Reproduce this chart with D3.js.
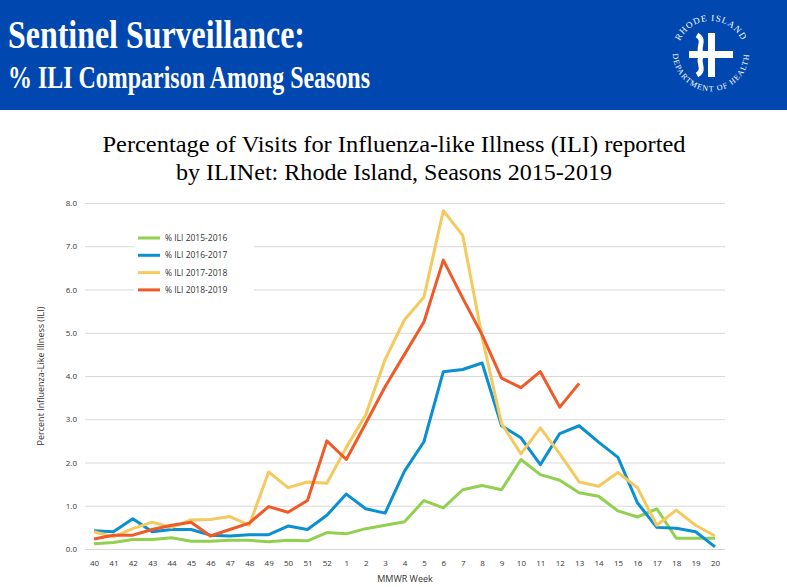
<!DOCTYPE html>
<html><head><meta charset="utf-8">
<script src="https://cdn.jsdelivr.net/npm/d3@7"></script>
<style>body{margin:0;background:#fff}</style>
</head><body>
<svg id="c" width="787" height="587"></svg>
<script>
var weeks = ["40","41","42","43","44","45","46","47","48","49","50","51","52","1","2","3","4","5","6","7","8","9","10","11","12","13","14","15","16","17","18","19","20"];
var ili1516 = [0.12,0.15,0.22,0.22,0.26,0.18,0.18,0.2,0.2,0.17,0.2,0.19,0.38,0.35,0.47,0.55,0.63,1.12,0.95,1.37,1.47,1.37,2.07,1.72,1.59,1.3,1.22,0.88,0.74,0.93,0.25,0.25,0.25];
var ili1617 = [0.42,0.4,0.7,0.4,0.45,0.45,0.32,0.3,0.33,0.33,0.53,0.45,0.78,1.27,0.93,0.83,1.8,2.48,4.1,4.15,4.3,2.85,2.57,1.95,2.67,2.85,2.47,2.12,1.07,0.5,0.48,0.4,0.05];
var ili1718 = [0.4,0.28,0.47,0.62,0.5,0.67,0.68,0.75,0.55,1.78,1.42,1.55,1.52,2.35,3.1,4.38,5.3,5.82,7.82,7.25,4.9,2.9,2.2,2.8,2.2,1.55,1.45,1.77,1.42,0.55,0.9,0.55,0.3];
var ili1819 = [0.23,0.32,0.32,0.45,0.55,0.62,0.3,0.45,0.6,0.98,0.85,1.12,2.5,2.07,2.9,3.75,4.5,5.25,6.68,5.8,4.95,3.95,3.73,4.1,3.28,3.83];
var yTicks = [0,1,2,3,4,5,6,7,8];

var series = [
  {name: "% ILI 2015-2016", color: "#92d050", values: ili1516},
  {name: "% ILI 2016-2017", color: "#0a8fd0", values: ili1617},
  {name: "% ILI 2017-2018", color: "#f4c95d", values: ili1718},
  {name: "% ILI 2018-2019", color: "#f05a28", values: ili1819}
];

var svg = d3.select("#c");

// banner
svg.append("rect").attr("width", 787).attr("height", 110).attr("fill", "#0047b0");
svg.append("text").attr("x", 8).attr("y", 48).attr("fill", "#fff")
  .style("font-family", "Liberation Serif").style("font-weight", "bold").style("font-size", "40px")
  .attr("textLength", 297).attr("lengthAdjust", "spacingAndGlyphs")
  .text("Sentinel Surveillance:");
svg.append("text").attr("x", 8).attr("y", 88).attr("fill", "#fff")
  .style("font-family", "Liberation Serif").style("font-weight", "bold").style("font-size", "31px")
  .attr("textLength", 362).attr("lengthAdjust", "spacingAndGlyphs")
  .text("% ILI Comparison Among Seasons");

// logo
var logo = svg.append("g").attr("transform", "translate(711,55)");
logo.append("path").attr("id", "arcTop").attr("d", "M-33,8 A34,34 0 1,1 33,8").attr("fill", "none");
logo.append("text").attr("fill", "#fff").style("font-family", "Liberation Serif").style("font-size", "9px")
  .style("letter-spacing", "1px")
  .append("textPath").attr("href", "#arcTop").attr("startOffset", "50%").attr("text-anchor", "middle")
  .text("RHODE ISLAND");
logo.append("path").attr("id", "arcSide").attr("d", "M-36,-14 A38,38 0 1,0 36,-14").attr("fill", "none");
logo.append("text").attr("fill", "#fff").style("font-family", "Liberation Serif").style("font-size", "8px")
  .style("letter-spacing", "1px")
  .append("textPath").attr("href", "#arcSide").attr("startOffset", "50%").attr("text-anchor", "middle")
  .text("DEPARTMENT OF HEALTH");
logo.append("rect").attr("x", -22).attr("y", -4).attr("width", 44).attr("height", 7).attr("fill", "#fff");
logo.append("rect").attr("x", -3).attr("y", -22).attr("width", 7).attr("height", 44).attr("fill", "#fff");
logo.append("path").attr("d", "M-14,-20 C-4,-14 -16,-6 -8,0 C-16,6 -4,14 -14,20").attr("stroke", "#fff").attr("stroke-width", 5).attr("fill", "none");

// chart title
svg.append("text").attr("x", 394).attr("y", 152).attr("text-anchor", "middle")
  .style("font-family", "Liberation Serif").style("font-size", "23px")
  .attr("textLength", 583).attr("lengthAdjust", "spacingAndGlyphs")
  .text("Percentage of Visits for Influenza-like Illness (ILI) reported");
svg.append("text").attr("x", 394).attr("y", 180).attr("text-anchor", "middle")
  .style("font-family", "Liberation Serif").style("font-size", "23px")
  .attr("textLength", 436).attr("lengthAdjust", "spacingAndGlyphs")
  .text("by ILINet: Rhode Island, Seasons 2015-2019");

var pLeft = 85, pRight = 725, pTop = 203, pBottom = 549;
var x = d3.scalePoint().domain(weeks).range([94, 715]);
var y = d3.scaleLinear().domain([0, 8]).range([pBottom, pTop]);

var font = "Open Sans";
var yAxis = svg.append("g").attr("transform", "translate(" + pLeft + ",0)")
  .call(d3.axisLeft(y).tickValues(yTicks).tickFormat(d3.format(".1f")).tickSize(-(pRight - pLeft)).tickPadding(8));
yAxis.select(".domain").remove();
yAxis.selectAll("line").attr("stroke", "#d9d9d9").attr("stroke-width", 1);
yAxis.selectAll("text").style("font-family", font).style("font-size", "8px").attr("fill", "#333");

var xAxis = svg.append("g").attr("transform", "translate(0," + pBottom + ")")
  .call(d3.axisBottom(x).tickSize(0).tickPadding(11));
xAxis.select(".domain").remove();
xAxis.selectAll("text").style("font-family", font).style("font-size", "8px").attr("fill", "#333");

svg.append("text").attr("x", 405).attr("y", 582).attr("text-anchor", "middle")
  .style("font-family", font).style("font-size", "9px").attr("fill", "#333").text("MMWR Week");
svg.append("text").attr("transform", "translate(44,376) rotate(-90)").attr("text-anchor", "middle")
  .style("font-family", font).style("font-size", "9px").attr("fill", "#333").text("Percent Influenza-Like Illness (ILI)");

var line = d3.line().x(function(d, i) { return x(weeks[i]); }).y(function(d) { return y(d); });
series.forEach(function(s) {
  svg.append("path").datum(s.values).attr("d", line).attr("fill", "none")
    .attr("stroke", s.color).attr("stroke-width", 3).attr("stroke-linejoin", "round");
});

// legend
svg.append("rect").attr("x", 134).attr("y", 228).attr("width", 120).attr("height", 70).attr("fill", "#fff");
series.forEach(function(s, i) {
  var ly = 238 + i * 17.3;
  svg.append("line").attr("x1", 138).attr("x2", 160).attr("y1", ly).attr("y2", ly)
    .attr("stroke", s.color).attr("stroke-width", 3);
  svg.append("text").attr("x", 165).attr("y", ly + 3).style("font-family", font).style("font-size", "8.5px")
    .attr("fill", "#333").text(s.name);
});
</script>
</body></html>
